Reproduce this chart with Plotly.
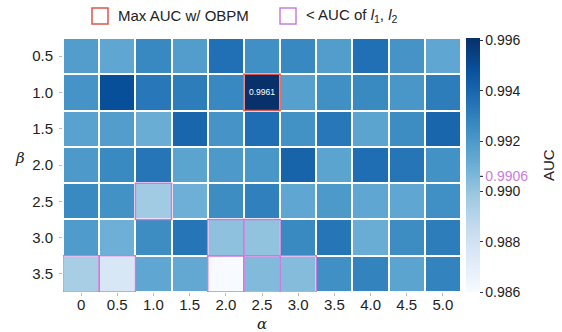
import plotly.graph_objects as go

# Grid of AUC scores over the two regularisation weights
alpha_labels = ["0", "0.5", "1.0", "1.5", "2.0", "2.5", "3.0", "3.5", "4.0", "4.5", "5.0"]
beta_labels = ["0.5", "1.0", "1.5", "2.0", "2.5", "3.0", "3.5"]

auc_b05 = [0.9918, 0.9914, 0.9927, 0.9918, 0.9936, 0.9924, 0.9927, 0.9918, 0.9936, 0.9922, 0.9914]
auc_b10 = [0.9922, 0.9949, 0.9933, 0.9931, 0.9927, 0.9961, 0.9917, 0.9924, 0.9926, 0.9921, 0.9931]
auc_b15 = [0.9916, 0.9918, 0.9911, 0.9940, 0.9922, 0.9937, 0.9923, 0.9933, 0.9915, 0.9925, 0.9940]
auc_b20 = [0.9920, 0.9926, 0.9934, 0.9915, 0.9920, 0.9921, 0.9941, 0.9915, 0.9937, 0.9934, 0.9923]
auc_b25 = [0.9926, 0.9923, 0.9897, 0.9910, 0.9925, 0.9930, 0.9914, 0.9920, 0.9914, 0.9914, 0.9924]
auc_b30 = [0.9919, 0.9910, 0.9925, 0.9934, 0.9902, 0.9901, 0.9926, 0.9934, 0.9911, 0.9925, 0.9931]
auc_b35 = [0.9895, 0.9876, 0.9914, 0.9913, 0.9860, 0.9905, 0.9904, 0.9924, 0.9929, 0.9915, 0.9929]
auc = [auc_b05, auc_b10, auc_b15, auc_b20, auc_b25, auc_b30, auc_b35]

# AUC reached by the l1 / l2 baselines
baseline_auc = 0.9906
colorbar_ticks = [0.986, 0.988, 0.990, 0.992, 0.994, 0.996]

RED = "#e0564a"
PURPLE = "#c77ddf"
FONT = "Liberation Sans, Arial, sans-serif"
MATH = "DejaVu Serif, serif"

blues = [
    [0.0, "rgb(247,251,255)"], [0.125, "rgb(222,235,247)"], [0.25, "rgb(198,219,239)"],
    [0.375, "rgb(158,202,225)"], [0.5, "rgb(107,174,214)"], [0.625, "rgb(66,146,198)"],
    [0.75, "rgb(33,113,181)"], [0.875, "rgb(8,81,156)"], [1.0, "rgb(8,48,107)"],
]

flat = [v for row in auc for v in row]
zmin, zmax = min(flat), max(flat)

W, H = 562, 332
ML, MR, MT, MB = 63, 101, 38, 40
plot_w = W - ML - MR
plot_h = H - MT - MB

tickvals = colorbar_ticks + [baseline_auc]
ticktext = [f"{t:.3f}" for t in colorbar_ticks] + [
    f"<span style='color:{PURPLE}'>{baseline_auc:.4f}</span>"
]

fig = go.Figure(
    go.Heatmap(
        z=auc,
        x=list(range(len(alpha_labels))),
        y=list(range(len(beta_labels))),
        colorscale=blues,
        zmin=zmin,
        zmax=zmax,
        xgap=2,
        ygap=2,
        colorbar=dict(
            x=1.0,
            xanchor="left",
            xpad=5,
            y=0.5,
            len=1.0,
            ypad=0,
            thickness=14,
            outlinewidth=0,
            tickvals=tickvals,
            ticktext=ticktext,
            ticks="outside",
            ticklen=3,
            tickcolor="#333",
            tickfont=dict(family=FONT, size=14, color="#222"),
        ),
        hoverongaps=False,
    )
)

shapes = []
annotations = []

# Outline the best cell and every cell that falls below the baseline
max_idx = flat.index(zmax)
mr, mc = divmod(max_idx, len(alpha_labels))
for r, row in enumerate(auc):
    for c, v in enumerate(row):
        if v < baseline_auc:
            shapes.append(dict(type="rect", xref="x", yref="y",
                               x0=c - 0.5, x1=c + 0.5, y0=r - 0.5, y1=r + 0.5,
                               line=dict(color=PURPLE, width=1.5)))
shapes.append(dict(type="rect", xref="x", yref="y",
                   x0=mc - 0.5, x1=mc + 0.5, y0=mr - 0.5, y1=mr + 0.5,
                   line=dict(color=RED, width=1.5)))
annotations.append(dict(x=mc, y=mr, xref="x", yref="y", text=f"{zmax:.4f}",
                        showarrow=False, font=dict(family=FONT, size=8.5, color="white")))

# Baseline marker across the colour bar
bar_x0 = 1.0 + 5 / plot_w
bar_x1 = 1.0 + 19 / plot_w
frac = (baseline_auc - zmin) / (zmax - zmin)
shapes.append(dict(type="line", xref="paper", yref="paper",
                   x0=bar_x0, x1=bar_x1 + 3 / plot_w, y0=frac, y1=frac,
                   line=dict(color=PURPLE, width=1.5)))

# Colour bar title, reading upward
annotations.append(dict(x=1.0 + (548 - ML - plot_w) / plot_w, y=0.5, xref="paper", yref="paper",
                        text="AUC", textangle=-90, showarrow=False,
                        xanchor="center", yanchor="middle",
                        font=dict(family=FONT, size=15, color="#222")))

# Axis titles: upright beta on the left, alpha below the ticks
annotations.append(dict(x=(20 - ML) / plot_w, y=1 - (158 - MT) / plot_h, xref="paper", yref="paper",
                        text="<i>β</i>", showarrow=False, xanchor="center", yanchor="middle",
                        font=dict(family=MATH, size=15, color="#222")))
annotations.append(dict(x=0.5, y=-(324 - MT - plot_h) / plot_h, xref="paper", yref="paper",
                        text="<i>α</i>", showarrow=False, xanchor="center", yanchor="middle",
                        font=dict(family=MATH, size=15, color="#222")))

# Legend built from outlined squares and labels above the grid
def legend_item(px_x, color, label):
    x0 = (px_x - ML) / plot_w
    x1 = (px_x + 16 - ML) / plot_w
    shapes.append(dict(type="rect", xref="paper", yref="paper",
                       x0=x0, x1=x1, y0=1 + (MT - 24) / plot_h,
                       y1=1 + (MT - 8) / plot_h,
                       line=dict(color=color, width=1.5)))
    annotations.append(dict(x=(px_x + 24 - ML) / plot_w, y=1 + (MT - 16) / plot_h,
                            xref="paper", yref="paper", xanchor="left", yanchor="middle",
                            text=label, showarrow=False,
                            font=dict(family=FONT, size=15, color="#222")))

legend_item(92, RED, "Max AUC w/ OBPM")
legend_item(280, PURPLE, "&lt; AUC of <i>l</i><sub>1</sub>, <i>l</i><sub>2</sub>")

fig.update_layout(
    width=W,
    height=H,
    margin=dict(l=ML, r=MR, t=MT, b=MB, autoexpand=False),
    paper_bgcolor="white",
    plot_bgcolor="white",
    font=dict(family=FONT, size=15, color="#222"),
    shapes=shapes,
    annotations=annotations,
    xaxis=dict(
        tickvals=list(range(len(alpha_labels))),
        ticktext=alpha_labels,
        range=[-0.5, len(alpha_labels) - 0.5],
        showgrid=False,
        zeroline=False,
        automargin=False,
        ticks="outside",
        ticklen=3,
        tickcolor="#bbb",
        ticklabelstandoff=-4,
        tickfont=dict(size=15),
    ),
    yaxis=dict(
        tickvals=list(range(len(beta_labels))),
        ticktext=beta_labels,
        range=[len(beta_labels) - 0.5, -0.5],
        showgrid=False,
        zeroline=False,
        automargin=False,
        ticks="outside",
        ticklen=3,
        tickcolor="#bbb",
        ticklabelstandoff=3,
        tickfont=dict(size=15),
    ),
)

fig.write_html("out.html")
